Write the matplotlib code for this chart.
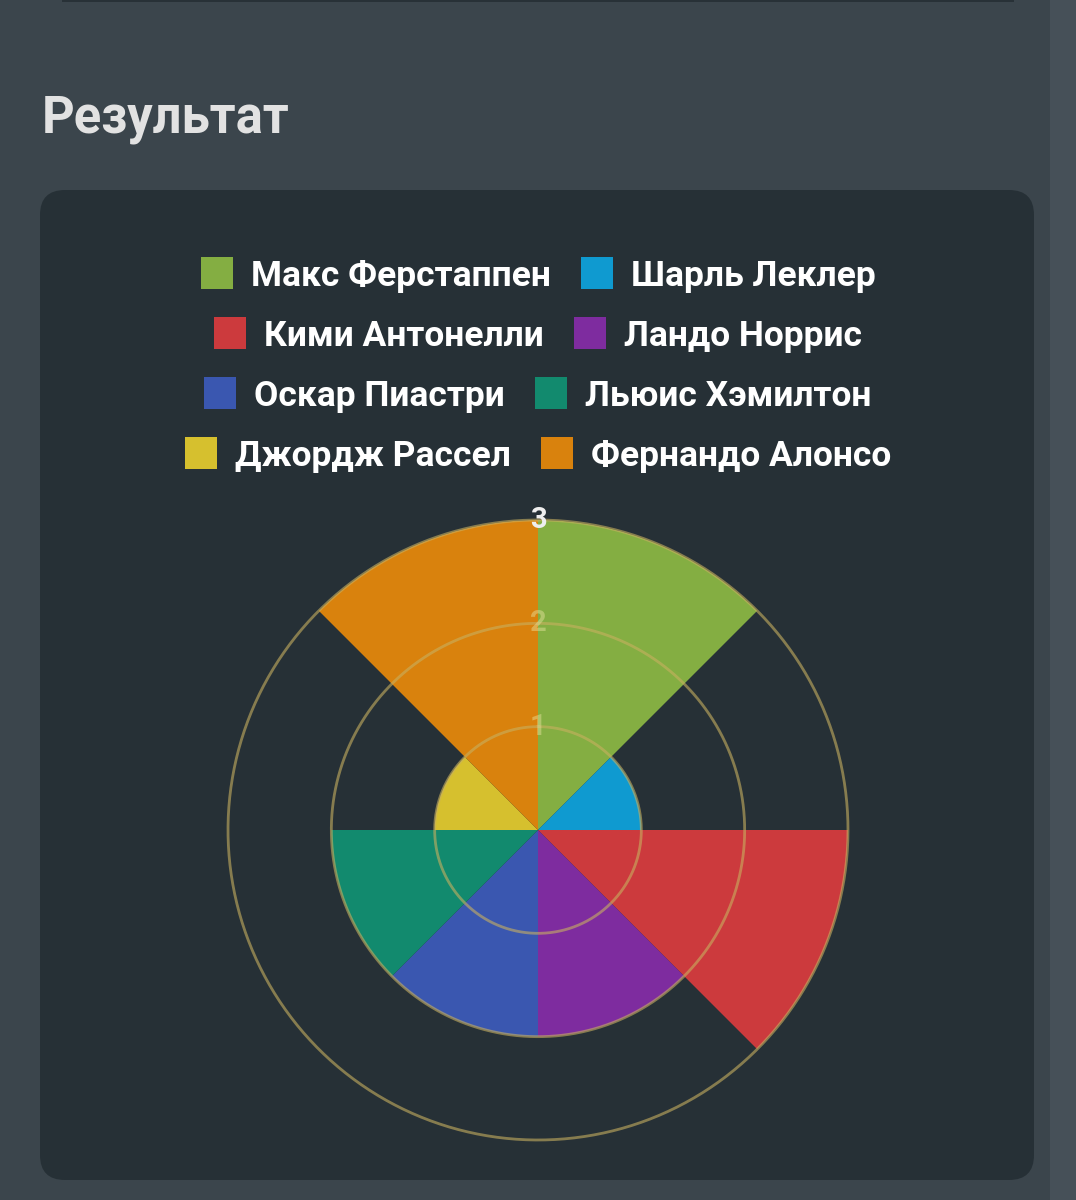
import matplotlib
matplotlib.use("Agg")
import numpy as np
import matplotlib.pyplot as plt
from matplotlib.patches import FancyBboxPatch, Rectangle

drivers = ["Макс Ферстаппен", "Шарль Леклер", "Кими Антонелли", "Ландо Норрис",
           "Оскар Пиастри", "Льюис Хэмилтон", "Джордж Рассел", "Фернандо Алонсо"]
points = [3, 1, 3, 2, 2, 2, 1, 3]
colors = ["#84ae42", "#0f9ad0", "#cc3a3d", "#7e2c9f",
          "#3a57b0", "#128a6e", "#d6c02e", "#d9820d"]
ticks = [1, 2, 3]

W, H = 1076, 1200
fig = plt.figure(figsize=(W / 100, H / 100), dpi=100)
fig.patch.set_facecolor("#3b454c")

# overlay axes in pixel coordinates (y down)
bg = fig.add_axes([0, 0, 1, 1])
bg.set_xlim(0, W)
bg.set_ylim(H, 0)
bg.axis("off")

bg.add_patch(Rectangle((1050, 0), 30, H, color="#465058", lw=0))
bg.add_patch(Rectangle((62, -10), 952, 12, color="#283137", lw=0))
bg.add_patch(FancyBboxPatch((40 + 25, 190 + 25), 994 - 50, 990 - 50,
                            boxstyle="round,pad=25", fc="#263036", ec="none"))

bg.text(42, 133, "Результат", fontsize=36.5, fontweight="bold", family="Roboto",
        color="#e2e2e2", ha="left", va="baseline")

# legend, two items per row, each row centred
renderer = fig.canvas.get_renderer()
box, gap, item_gap = 32, 18, 30
row_y = [273, 333, 393, 453]
for r in range(4):
    items = []
    for k in range(2):
        i = r * 2 + k
        t = bg.text(0, row_y[r], drivers[i], fontsize=25.5, fontweight="bold",
                    family="Roboto", color="white", ha="left", va="center_baseline")
        w = t.get_window_extent(renderer).width
        items.append((i, t, w))
    total = sum(box + gap + w for _, _, w in items) + item_gap
    x = 538 - total / 2
    for i, t, w in items:
        bg.add_patch(Rectangle((x, row_y[r] - box / 2), box, box, color=colors[i], lw=0))
        t.set_x(x + box + gap)
        x += box + gap + w + item_gap

# polar area chart
cx, cy, R = 538, 830, 310
ax = fig.add_axes([(cx - R) / W, (H - cy - R) / H, 2 * R / W, 2 * R / H], projection="polar")
ax.set_facecolor("none")
ax.set_theta_zero_location("N")
ax.set_theta_direction(-1)
n = len(points)
theta = np.arange(n) * 2 * np.pi / n
ax.bar(theta, points, width=2 * np.pi / n, align="edge", color=colors,
       edgecolor="none", zorder=2)
ax.set_ylim(0, 3)
ax.set_xticks([])
ax.set_yticks([])
ax.grid(False)
ax.spines["polar"].set_visible(False)

circ = np.linspace(0, 2 * np.pi, 400)
for t in ticks:
    ax.plot(circ, np.full_like(circ, t), color="#c8b060", lw=2, alpha=0.6,
            zorder=3, clip_on=False)
for t in ticks:
    if t == ticks[-1]:
        ax.text(0, t, str(t), color="#eeeeee", fontsize=21, fontweight="bold",
                family="Roboto", ha="center", va="center", zorder=4, clip_on=False)
    else:
        ax.text(0, t, str(t), color="#e8e4a0", alpha=0.45, fontsize=21, fontweight="bold",
                family="Roboto", ha="center", va="center", zorder=4)

fig.savefig("out.png", dpi=100, facecolor=fig.get_facecolor())
